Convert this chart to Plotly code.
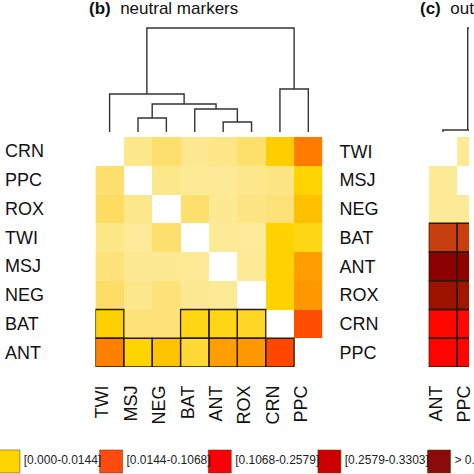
import plotly.graph_objects as go

# ---------------- data ----------------
cols_b = ["TWI", "MSJ", "NEG", "BAT", "ANT", "ROX", "CRN", "PPC"]
rows_b = ["CRN", "PPC", "ROX", "TWI", "MSJ", "NEG", "BAT", "ANT"]
rows_c = ["TWI", "MSJ", "NEG", "BAT", "ANT", "ROX", "CRN", "PPC"]
cols_c = ["ANT", "PPC"]

# pairwise Fst, neutral markers (panel b)
fst_b = [
    [None,   0.0027, 0.0058, 0.0022, 0.0032, 0.0060, 0.0170, 0.0630],
    [0.0058, None,   0.0027, 0.0018, 0.0018, 0.0027, 0.0035, 0.0144],
    [0.0070, 0.0027, None,   0.0058, 0.0020, 0.0035, 0.0045, 0.0220],
    [0.0032, 0.0015, 0.0058, None,   0.0018, 0.0015, 0.0150, 0.0130],
    [0.0045, 0.0020, 0.0020, 0.0018, None,   0.0018, 0.0150, 0.0370],
    [0.0066, 0.0027, 0.0045, 0.0020, 0.0018, None,   0.0150, 0.0400],
    [0.0160, 0.0045, 0.0045, 0.0130, 0.0130, 0.0115, None,   0.1000],
    [0.0600, 0.0144, 0.0210, 0.0105, 0.0370, 0.0400, 0.1050, None],
]
# significant pairs (outlined cells)
sig_b = [
    [0, 0, 0, 0, 0, 0, 0, 0],
    [0, 0, 0, 0, 0, 0, 0, 0],
    [0, 0, 0, 0, 0, 0, 0, 0],
    [0, 0, 0, 0, 0, 0, 0, 0],
    [0, 0, 0, 0, 0, 0, 0, 0],
    [0, 0, 0, 0, 0, 0, 0, 0],
    [1, 0, 0, 1, 1, 1, 0, 0],
    [1, 1, 1, 1, 1, 1, 1, 0],
]

# pairwise Fst, outlier markers (panel c, visible part)
fst_c = [
    [None,   0.0018],
    [0.0018, None],
    [0.0018, 0.0018],
    [0.2860, 0.2840],
    [0.4000, 0.3950],
    [0.3700, 0.3600],
    [0.2450, 0.2450],
    [0.2520, 0.2500],
]
sig_c = [[0, 0], [0, 0], [0, 0], [1, 1], [1, 1], [1, 1], [1, 1], [1, 1]]

# dendrograms: (left, right, merge height)
dendro_b_leaves = cols_b
dendro_b_merges = [
    ("ANT", "ROX", 10),
    ("MSJ", "NEG", 14),
    ("BAT", "(ANT,ROX)", 23),
    ("(MSJ,NEG)", "(BAT,(ANT,ROX))", 28),
    ("TWI", "((MSJ,NEG),(BAT,(ANT,ROX)))", 38),
    ("CRN", "PPC", 43),
    ("(TWI,((MSJ,NEG),(BAT,(ANT,ROX))))", "(CRN,PPC)", 104),
]
dendro_c_leaves = ["ANT", "PPC", "CRN", "ROX", "BAT", "TWI", "MSJ", "NEG"]
dendro_c_merges = [
    ("CRN", "ROX", 1),
    ("PPC", "(CRN,ROX)", 1.5),
    ("ANT", "(PPC,(CRN,ROX))", 2),
    ("MSJ", "NEG", 1),
    ("TWI", "(MSJ,NEG)", 2),
    ("BAT", "(TWI,(MSJ,NEG))", 3),
    ("(ANT,(PPC,(CRN,ROX)))", "(BAT,(TWI,(MSJ,NEG)))", 104),
]

legend_labels = ["[0.000-0.0144]", "[0.0144-0.1068]", "[0.1068-0.2579]",
                 "[0.2579-0.3303]", "> 0.3303"]

# ---------------- styles / layout constants ----------------
legend_colors = ["#FFD500", "#FF4A10", "#FA0008", "#CC0000", "#8B0A0A"]
legend_x = [5.5, 110, 220.5, 332, 443.5]   # pixel centres of legend boxes
FONT = "Liberation Sans, Arial, Helvetica, sans-serif"
W = H = 474
ZMAX = 0.40
stops = [(0.0, "#FEEFAA"), (0.003, "#FDE688"), (0.007, "#FDDC62"),
         (0.0144, "#FFD400"), (0.025, "#FFB800"), (0.04, "#FF9800"),
         (0.062, "#FF7C00"), (0.1068, "#FF4500"), (0.2579, "#FF0000"),
         (0.285, "#C8400E"), (0.3303, "#B01A00"), (0.37, "#9C1400"),
         (0.40, "#8B0000")]
colorscale = [[v / ZMAX, c] for v, c in stops]


def px_x(p):
    return p / W


def px_y(p):
    return 1 - p / H


cell = (325 - 94) / 8.0
xb_dom = [px_x(94), px_x(325)]
xc_dom = [px_x(433), 1.0]
xc_range = [-0.5, -0.5 + (W - 433) / cell]
hm_dom = [px_y(367), px_y(137)]
dn_dom = [px_y(132), px_y(20)]


def dendro_lines(leaves, merges):
    pos = {n: float(i) for i, n in enumerate(leaves)}
    ht = {n: 0.0 for n in leaves}
    xs, ys = [], []
    for a, b, h in merges:
        xa, xb = pos[a], pos[b]
        xs += [xa, xa, xb, xb, None]
        ys += [ht[a], h, h, ht[b], None]
        key = "(%s,%s)" % (a, b)
        pos[key] = (xa + xb) / 2
        ht[key] = h
    return xs, ys


fig = go.Figure()

# heatmaps
fig.add_trace(go.Heatmap(z=fst_b, x=list(range(8)), y=list(range(8)),
                         colorscale=colorscale, zmin=0, zmax=ZMAX,
                         showscale=False, xaxis="x", yaxis="y", hoverinfo="skip"))
fig.add_trace(go.Heatmap(z=fst_c, x=list(range(2)), y=list(range(8)),
                         colorscale=colorscale, zmin=0, zmax=ZMAX,
                         showscale=False, xaxis="x2", yaxis="y3", hoverinfo="skip"))
# dummy traces so overlay axes are drawn
fig.add_trace(go.Scatter(x=[0], y=[None], xaxis="x6", yaxis="y3",
                         mode="markers", showlegend=False, hoverinfo="skip"))
fig.add_trace(go.Scatter(x=[0], y=[None], xaxis="x", yaxis="y2",
                         mode="markers", showlegend=False, hoverinfo="skip"))

# dendrograms
dx, dy = dendro_lines(dendro_b_leaves, dendro_b_merges)
fig.add_trace(go.Scatter(x=dx, y=dy, mode="lines", xaxis="x3", yaxis="y4",
                         line=dict(color="#333333", width=1.4),
                         showlegend=False, hoverinfo="skip"))
dx, dy = dendro_lines(dendro_c_leaves, dendro_c_merges)
fig.add_trace(go.Scatter(x=dx, y=dy, mode="lines", xaxis="x4", yaxis="y5",
                         line=dict(color="#333333", width=1.4),
                         showlegend=False, hoverinfo="skip"))

# bottom legend
fig.add_trace(go.Scatter(x=legend_x, y=[0.264] * len(legend_x), xaxis="x5", yaxis="y6",
                         mode="markers+text", text=legend_labels,
                         textposition="middle right",
                         textfont=dict(family=FONT, size=12, color="#222222"),
                         marker=dict(symbol="square", size=23, color=legend_colors,
                                     line=dict(color="rgba(110,60,0,0.55)", width=1)),
                         cliponaxis=False, showlegend=False, hoverinfo="skip"))

# outlines of significant cells
shapes = []
for mat, xr, yr in ((sig_b, "x", "y"), (sig_c, "x2", "y3")):
    for i, row in enumerate(mat):
        for j, s in enumerate(row):
            if s:
                shapes.append(dict(type="rect", xref=xr, yref=yr,
                                   x0=j - 0.5, x1=j + 0.5, y0=i - 0.5, y1=i + 0.5,
                                   line=dict(color="#2a1a00", width=1.3),
                                   fillcolor="rgba(0,0,0,0)"))

annotations = []
for i, lab in enumerate(rows_b):
    annotations.append(dict(text=lab, x=px_x(0), xref="paper", xanchor="left",
                            y=i, yref="y", yanchor="middle", showarrow=False,
                            font=dict(family=FONT, size=18, color="#111111")))
annotations.append(dict(text="<b>(b)</b>\u00a0 neutral markers", x=px_x(85), xref="paper",
                        xanchor="left", y=px_y(9), yref="paper", yanchor="middle",
                        showarrow=False, font=dict(family=FONT, size=17, color="#111111")))
annotations.append(dict(text="<b>(c)</b>\u00a0 outlier markers", x=px_x(422), xref="paper",
                        xanchor="left", y=px_y(9), yref="paper", yanchor="middle",
                        showarrow=False, font=dict(family=FONT, size=17, color="#111111")))

tickfont = dict(family=FONT, size=18, color="#111111")
hidden = dict(showgrid=False, zeroline=False, showticklabels=False, ticks="", showline=False)

fig.update_layout(
    width=W, height=H, margin=dict(l=0, r=0, t=0, b=0),
    paper_bgcolor="white", plot_bgcolor="white", showlegend=False,
    shapes=shapes, annotations=annotations,
    xaxis=dict(domain=xb_dom, range=[-0.5, 7.5], anchor="y", tickvals=list(range(8)),
               ticktext=cols_b, tickangle=-90, ticks="", showgrid=False, zeroline=False,
               tickfont=tickfont, ticklabelshift=-7, ticklabelstandoff=14),
    yaxis=dict(domain=hm_dom, range=[7.5, -0.5], anchor="x", **hidden),
    yaxis2=dict(domain=hm_dom, range=[7.5, -0.5], anchor="x", overlaying="y", side="right",
                tickvals=list(range(8)), ticktext=rows_c, ticks="", showgrid=False,
                zeroline=False, tickfont=tickfont, ticklabelstandoff=16),
    xaxis2=dict(domain=xc_dom, range=xc_range, anchor="y3", **hidden),
    yaxis3=dict(domain=hm_dom, range=[7.5, -0.5], anchor="x2", **hidden),
    xaxis6=dict(domain=xc_dom, range=[xc_range[0] + 0.25, xc_range[1] + 0.25],
                anchor="y3", overlaying="x2", side="bottom", tickvals=list(range(2)),
                ticktext=cols_c, tickangle=-90, ticks="", showgrid=False, zeroline=False,
                tickfont=tickfont, ticklabelstandoff=14, ticklabeloverflow="allow"),
    xaxis3=dict(domain=xb_dom, range=[-0.5, 7.5], anchor="y4", **hidden),
    yaxis4=dict(domain=dn_dom, range=[0, 112], anchor="x3", **hidden),
    xaxis4=dict(domain=xc_dom, range=xc_range, anchor="y5", **hidden),
    yaxis5=dict(domain=dn_dom, range=[0, 112], anchor="x4", **hidden),
    xaxis5=dict(domain=[0, 1], range=[0, W], anchor="y6", **hidden),
    yaxis6=dict(domain=[0, 0.1], range=[0, 1], anchor="x5", **hidden),
)

fig.write_html("out.html", config={"displayModeBar": False},
               post_script="document.body.style.margin='0';document.body.style.overflow='hidden';")
